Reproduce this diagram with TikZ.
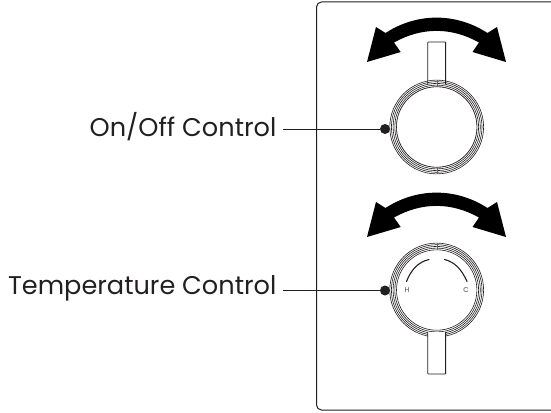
\documentclass[tikz,border=0pt]{standalone}
\usepackage{fontspec}
\setmainfont{Poppins}
\definecolor{ink}{HTML}{231F20}
\tikzset{
  x=1pt,y=-1pt,
  panel/.style={draw=ink,line width=1pt,rounded corners=5pt},
  leader/.style={draw=ink,line width=0.9pt},
  ring/.style={draw=ink,line width=0.6pt},
  seam/.style={draw=ink!70,line width=0.35pt},
  lever/.style={draw=ink,line width=0.8pt,fill=white,rounded corners=0.6pt},
  swing/.style={fill=black,draw=none},
  label/.style={font=\fontsize{25.6}{30}\selectfont,text=ink,anchor=east,inner sep=0pt},
  tick/.style={draw=ink,line width=1.1pt,line cap=round},
  dial/.style={font=\fontsize{7}{8}\selectfont,text=ink!80,inner sep=0pt},
  dotend/.style={circle,fill=ink,inner sep=0pt,minimum size=10pt}
}
\newcommand{\swingarrow}[1]{%
  \fill[swing,yshift=#1pt] (367,62) -- (376,27) -- (385.5,33)
    .. controls (417,12.5) and (456,12.5) .. (487.5,33)
    -- (497,27) -- (506,62) -- (472.5,52) -- (479,42.5)
    .. controls (451,27) and (422,27) .. (394,42.5)
    -- (400.7,52) -- cycle;}
\newcommand{\rings}[1]{%
  \foreach \r in {40.2,41.9,43.6,45.3,46.9}{\draw[ring] (436.7,#1) circle[radius=\r];}}
\begin{document}
\begin{tikzpicture}
\useasboundingbox (0,0) rectangle (551,412);
\clip (0,0) rectangle (551,412);
\draw[panel] (600,2) -- (316.5,2) -- (316.5,410) -- (600,410);
% upper control
\swingarrow{0}
\draw[lever] (427.8,84) -- (427.8,42) -- (445.6,42) -- (445.6,84);
\rings{127}
\draw[ring,fill=white] (436.7,127) circle[radius=40.2];
\draw[seam] (436.7,80) -- (436.7,87);
\draw[seam] (436.7,167) -- (436.7,174);
\node[dotend] (d1) at (385,129) {};
\node[label] (l1) at (276.5,127) {On/Off Control};
\coordinate (s1) at (283,129);
\draw[leader] (s1) -- (d1);
% lower control
\swingarrow{-175}
\rings{290}
\draw[seam] (436.7,243) -- (436.7,250);
\draw[lever] (427.8,332) -- (427.8,374) -- (445.6,374) -- (445.6,332);
\draw[tick] (406.5,281.5) .. controls (411,270) and (418,262) .. (429,259.5);
\draw[tick] (444.5,259.5) .. controls (455,262) and (462,270) .. (467,281.5);
\node[dial] (h) at (407,290.5) {H};
\node[dial] (c) at (466,290.5) {C};
\node[dotend] (d2) at (385,290.5) {};
\node[label] (l2) at (276.5,288.5) {Temperature Control};
\coordinate (s2) at (283,290.5);
\draw[leader] (s2) -- (d2);
\end{tikzpicture}
\end{document}
